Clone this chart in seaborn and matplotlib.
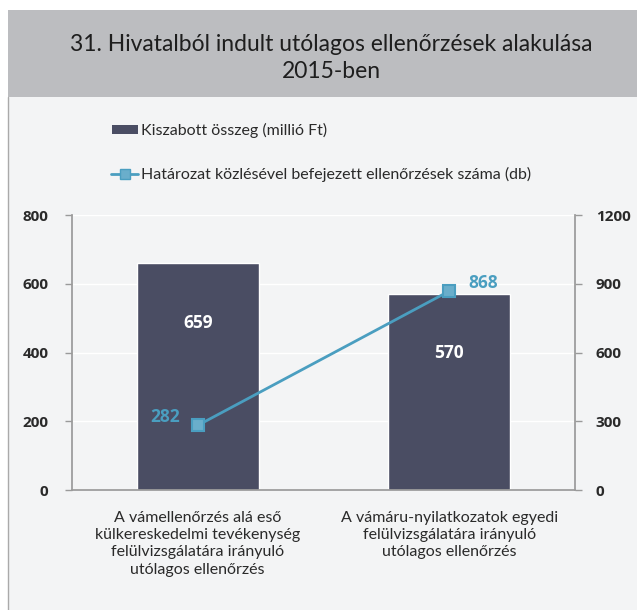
import matplotlib
matplotlib.use("Agg")
import matplotlib.pyplot as plt
import seaborn as sns
import pandas as pd
from matplotlib.patches import Rectangle
from matplotlib.lines import Line2D

categories = [
    "A vámellenőrzés alá eső\nkülkereskedelmi tevékenység\nfelülvizsgálatára irányuló\nutólagos ellenőrzés",
    "A vámáru-nyilatkozatok egyedi\nfelülvizsgálatára irányuló\nutólagos ellenőrzés",
]
amount = [659, 570]
count = [282, 868]
bar_label = "Kiszabott összeg (millió Ft)"
line_label = "Határozat közlésével befejezett ellenőrzések száma (db)"
title = "31. Hivatalból indult utólagos ellenőrzések alakulása\n2015-ben"

df = pd.DataFrame({"cat": categories, "amount": amount, "count": count})

sns.set_theme(style="white")
plt.rcParams["font.family"] = ["Lato", "DejaVu Sans"]

BG = "#f3f4f5"
BAR = "#4a4d63"
LINE = "#4a9ec0"
MFACE = "#6aaecb"
AX = "#9a9a9a"
TXT = "#2a2a2a"
NUMFONT = ["Open Sans", "DejaVu Sans"]

fig = plt.figure(figsize=(6.37, 6.10), dpi=100, facecolor=BG)

# title band
fig.patches.append(Rectangle((8/637, 1-97/610), 629/637, 87/610, transform=fig.transFigure,
                             facecolor="#bcbdc0", edgecolor="none", zorder=0))
fig.patches.append(Rectangle((0, 0), 8/637, 1, transform=fig.transFigure,
                             facecolor="white", edgecolor="none", zorder=0))
fig.add_artist(Line2D([8/637, 8/637], [0, 1-97/610], transform=fig.transFigure, color="#aaaaaa", lw=1))
fig.patches.append(Rectangle((0, 1-10/610), 1, 10/610, transform=fig.transFigure,
                             facecolor="white", edgecolor="none", zorder=0))
fig.text(0.52, 1-58/610, title, ha="center", va="center", fontsize=16.5, color="#1e1e1e",
         linespacing=1.35, fontweight="normal")

ax = fig.add_axes([72/637, 1-490/610, 503/637, 275/610])
ax.set_facecolor(BG)
sns.barplot(data=df, x="cat", y="amount", color=BAR, width=0.485, saturation=1, ax=ax)
ax.set_ylim(0, 800)
ax.set_xlim(-0.5, 1.5)
ax.set_yticks([0, 200, 400, 600, 800])
ax.set_xlabel("")
ax.set_ylabel("")

ax2 = ax.twinx()
sns.pointplot(data=df, x="cat", y="count", color=LINE, markers="s", linestyles="-",
              ax=ax2, markersize=8, linewidth=2, native_scale=False)
for l in ax2.lines:
    l.set_markerfacecolor(MFACE)
    l.set_markeredgecolor(LINE)
ax2.set_ylim(0, 1200)
ax2.set_xlim(-0.5, 1.5)
ax2.set_yticks([0, 300, 600, 900, 1200])
ax2.set_ylabel("")
ax2.set_xlabel("")

for a in (ax, ax2):
    for s in a.spines.values():
        s.set_visible(False)
    a.tick_params(colors=AX, labelcolor=TXT, labelsize=11.5, length=5, width=1)
ax.spines["left"].set_visible(True)
ax.spines["left"].set_color(AX)
ax.spines["bottom"].set_visible(True)
ax.spines["bottom"].set_color(AX)
ax2.spines["right"].set_visible(True)
ax2.spines["right"].set_color(AX)
ax.tick_params(axis="y", pad=12)
ax2.tick_params(axis="y", pad=10)
ax.grid(axis="y", color="white", lw=1)
ax.set_axisbelow(True)

ax.set_xticks([-0.5, 0.5, 1.5], minor=True)
ax.set_xticks([0, 1])
ax.set_xticklabels(categories, fontsize=11.5, color=TXT, linespacing=1.3)
ax.tick_params(axis="x", which="major", length=0, pad=15)
ax.tick_params(axis="x", which="minor", length=5, color=AX)
ax2.tick_params(axis="x", length=0, labelbottom=False)

for lbl in ax.get_yticklabels() + ax2.get_yticklabels():
    lbl.set_fontweight("bold")
    lbl.set_family(NUMFONT)
    lbl.set_fontsize(11)

for i, v in enumerate(amount):
    ax.text(i, v - 172, str(v), ha="center", va="center", color="white", fontsize=12.5,
            fontweight="bold", family=NUMFONT)
ax2.text(0 - 0.07, count[0] + 36, str(count[0]), ha="right", va="center", color=LINE, fontsize=12.5,
         fontweight="bold", family=NUMFONT)
ax2.text(1 + 0.135, count[1] + 35, str(count[1]), ha="center", va="center", color=LINE, fontsize=12.5,
         fontweight="bold", family=NUMFONT)

# legend
fig.patches.append(Rectangle((112/637, 1-134/610), 26/637, 9/610, transform=fig.transFigure,
                             facecolor=BAR, edgecolor="none"))
fig.text(141/637, 1-130/610, bar_label, ha="left", va="center", fontsize=11.5, color=TXT)
fig.add_artist(Line2D([111/637, 138/637], [1-174/610, 1-174/610], transform=fig.transFigure,
                      color=LINE, lw=2))
fig.add_artist(Line2D([124.5/637], [1-174/610], transform=fig.transFigure,
                      color=LINE, marker="s", markersize=7, markerfacecolor=MFACE, lw=0))
fig.text(141/637, 1-174/610, line_label, ha="left", va="center", fontsize=11.5, color=TXT)

fig.savefig("out.png", dpi=100, facecolor=BG)
